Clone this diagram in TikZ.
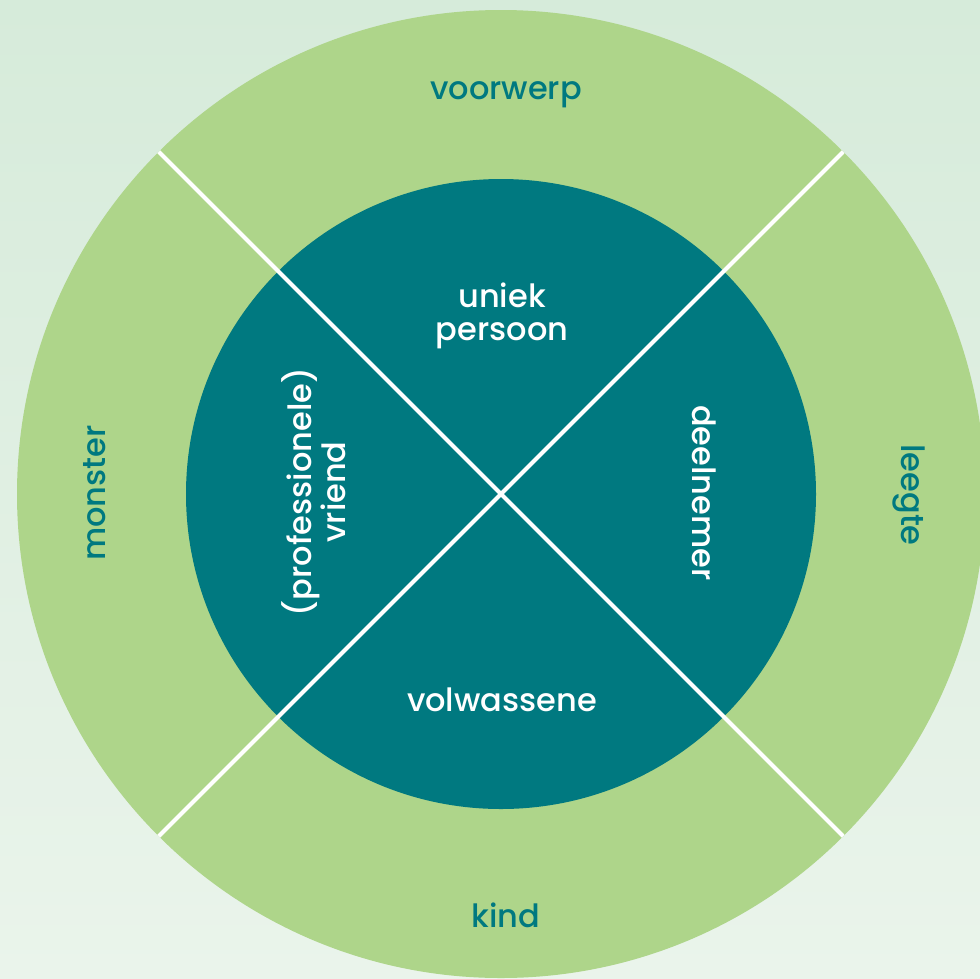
\documentclass[tikz,border=0pt]{standalone}
\usepackage{fontspec}
\setmainfont{Poppins}[UprightFont=* Medium]
\usepackage{tikz}
\definecolor{bgtop}{HTML}{D6EBDA}
\definecolor{bgbottom}{HTML}{EAF4EB}
\definecolor{ringgreen}{HTML}{AED58A}
\definecolor{coreteal}{HTML}{007980}
\tikzset{
  font={\fontsize{32pt}{33pt}\selectfont}}

\begin{document}
\begin{tikzpicture}[x=1pt,y=-1pt]
\tikzstyle{every node}+=[inner sep=0pt, align=center]
\tikzstyle{outerlabel}=[text=coreteal]
\tikzstyle{innerlabel}=[text=white]
\tikzstyle{divider}=[white, line width=4pt]
\useasboundingbox (0,0) rectangle (980,978);
\shade [top color=bgtop, bottom color=bgbottom] (0,0) rectangle (980,978);
\coordinate (c) at (501,494);
\fill [ringgreen] (c) circle (484pt);
\fill [coreteal] (c) circle (315pt);
\coordinate (nw) at (158.8,151.8);
\coordinate (ne) at (843.2,151.8);
\coordinate (sw) at (158.8,836.2);
\coordinate (se) at (843.2,836.2);
\begin{scope}
\clip (c) circle (484pt);
\draw [divider] (nw) -- (se);
\draw [divider] (ne) -- (sw);
\end{scope}
\node [outerlabel] (voorwerp) at (506,95) {voorwerp};
\node [outerlabel] (kind) at (506,915) {kind};
\node [outerlabel, rotate=90] (monster) at (95,493) {monster};
\node [outerlabel, rotate=-90] (leegte) at (909,495) {leegte};
\node [innerlabel] (uniek) at (502,316) {uniek\\persoon};
\node [innerlabel] (volwassene) at (502,700) {volwassene};
\node [innerlabel, rotate=90] (vriend) at (314,492) {(professionele)\\vriend};
\node [innerlabel, rotate=-90] (deelnemer) at (704,493) {deelnemer};
\end{tikzpicture}
\end{document}
